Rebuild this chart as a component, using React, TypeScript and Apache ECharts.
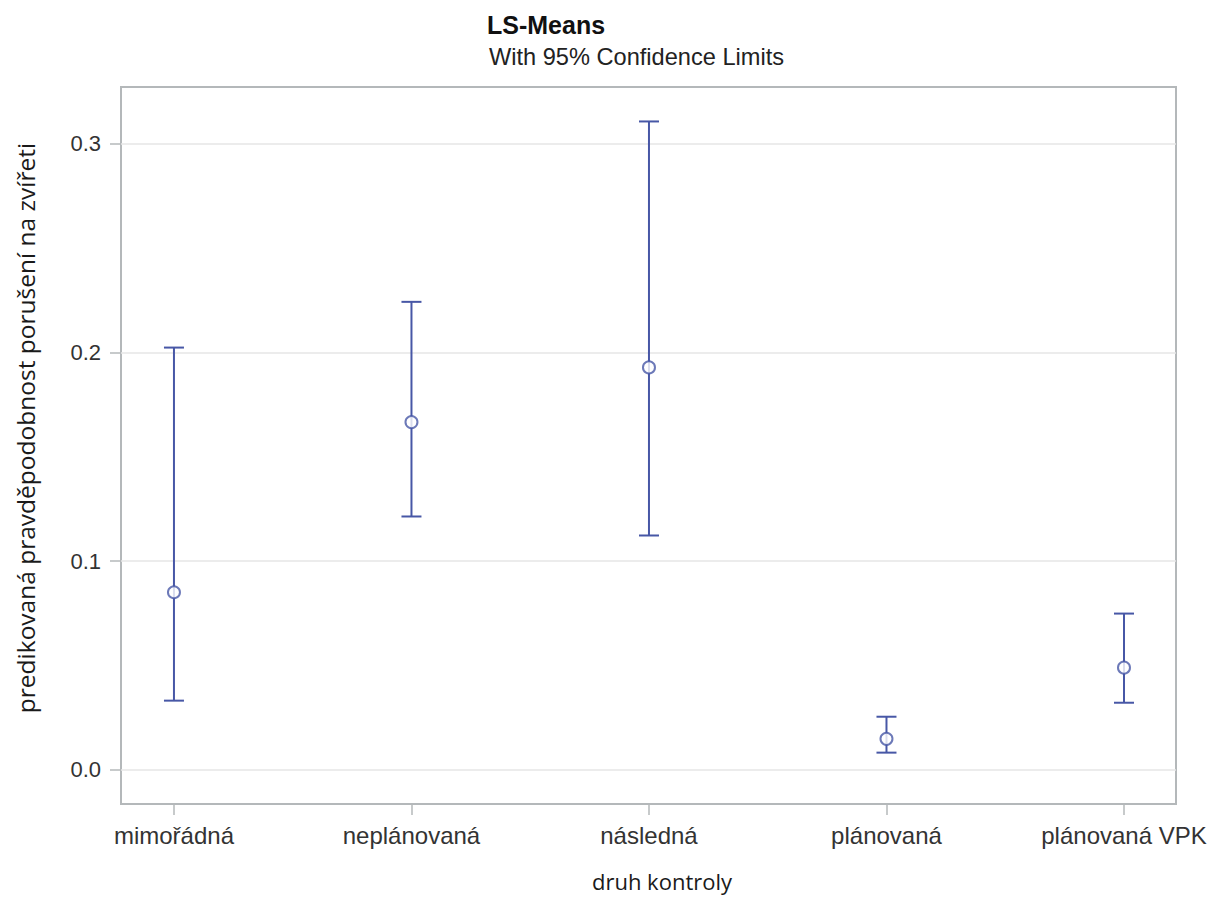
import React, { useEffect, useRef } from "react";
import * as echarts from "echarts";

const categories = ["mimořádná", "neplánovaná", "následná", "plánovaná", "plánovaná VPK"];
const means = [0.0851, 0.1666, 0.1928, 0.0149, 0.049];
const lowers = [0.0332, 0.1214, 0.1123, 0.0083, 0.0322];
const uppers = [0.2023, 0.2242, 0.3106, 0.0255, 0.0749];
const yTicks = [0, 0.1, 0.2, 0.3];
const titleText = "LS-Means";
const subtitleText = "With 95% Confidence Limits";
const xTitle = "druh kontroly";
const yTitle = "predikovaná pravděpodobnost porušení na zvířeti";

const BLUE = "#4757a6";
const FRAME = "#b4b8ba";

export default function App() {
  const ref = useRef<HTMLDivElement>(null);
  useEffect(() => {
    if (!ref.current) return;
    const chart = echarts.init(ref.current, null, { renderer: "svg" });
    const idx = categories.map((_, i) => i);
    const errData = idx.map((i) => [i, lowers[i], uppers[i]]);
    const meanData = idx.map((i) => [i, means[i]]);
    chart.setOption({
      animation: false,
      backgroundColor: "#ffffff",
      graphic: [
        {
          type: "text",
          left: 487,
          top: 12,
          style: { text: titleText, font: "bold 25px 'Liberation Sans', Arial, sans-serif", fill: "#111" },
        },
        {
          type: "text",
          left: 489,
          top: 45,
          style: { text: subtitleText, font: "23.6px 'Liberation Sans', Arial, sans-serif", fill: "#222" },
        },
        {
          type: "text",
          x: 662,
          y: 881,
          style: {
            text: xTitle,
            font: "22px 'Open Sans', sans-serif",
            fill: "#1a1a1a",
            align: "center",
            verticalAlign: "middle",
          },
        },
        {
          type: "text",
          x: 25,
          y: 428,
          rotation: Math.PI / 2,
          style: {
            text: yTitle,
            font: "24.5px 'Open Sans', sans-serif",
            fill: "#1a1a1a",
            align: "center",
            verticalAlign: "middle",
          },
        },
      ],
      grid: {
        left: 121,
        right: 34,
        top: 87,
        bottom: 93,
        show: true,
        borderColor: FRAME,
        borderWidth: 2,
        containLabel: false,
      },
      xAxis: {
        type: "value",
        min: -0.223,
        max: 4.219,
        axisLine: { show: false, onZero: false },
        axisTick: {
          show: true,
          length: 11,
          customValues: idx,
          lineStyle: { color: FRAME, width: 1.5 },
        },
        axisLabel: {
          customValues: idx,
          margin: 19,
          fontFamily: "'Liberation Sans', Arial, sans-serif",
          fontSize: 24,
          color: "#333",
          formatter: (v: number) => categories[Math.round(v)] ?? "",
        },
        splitLine: { show: false },
      },
      yAxis: {
        type: "value",
        min: -0.0163,
        max: 0.3271,
        axisLine: { show: false, onZero: false },
        axisTick: {
          show: true,
          length: 11,
          customValues: yTicks,
          lineStyle: { color: FRAME, width: 1.5 },
        },
        axisLabel: {
          customValues: yTicks,
          margin: 20,
          fontFamily: "'Liberation Sans', Arial, sans-serif",
          fontSize: 22,
          color: "#333",
          formatter: (v: number) => v.toFixed(1),
        },
        splitLine: { show: true, lineStyle: { color: "#e6e6e6", width: 1.5 } },
      },
      series: [
        {
          type: "custom",
          data: errData,
          renderItem: (params: any, api: any) => {
            const x = api.value(0);
            const lo = api.coord([x, api.value(1)]);
            const hi = api.coord([x, api.value(2)]);
            const half = 10;
            const style = { stroke: BLUE, lineWidth: 2, fill: "none" };
            return {
              type: "group",
              children: [
                { type: "line", shape: { x1: lo[0], y1: lo[1], x2: hi[0], y2: hi[1] }, style },
                { type: "line", shape: { x1: hi[0] - half, y1: hi[1], x2: hi[0] + half, y2: hi[1] }, style },
                { type: "line", shape: { x1: lo[0] - half, y1: lo[1], x2: lo[0] + half, y2: lo[1] }, style },
              ],
            };
          },
          z: 2,
        },
        {
          type: "scatter",
          data: meanData,
          symbol: "circle",
          symbolSize: 12,
          itemStyle: { color: "#ffffff", borderColor: BLUE, borderWidth: 2 },
          z: 3,
        },
      ],
    });
    return () => chart.dispose();
  }, []);
  return (
    <div
      ref={ref}
      style={{ position: "fixed", left: 0, top: 0, width: 1210, height: 897 }}
    />
  );
}
